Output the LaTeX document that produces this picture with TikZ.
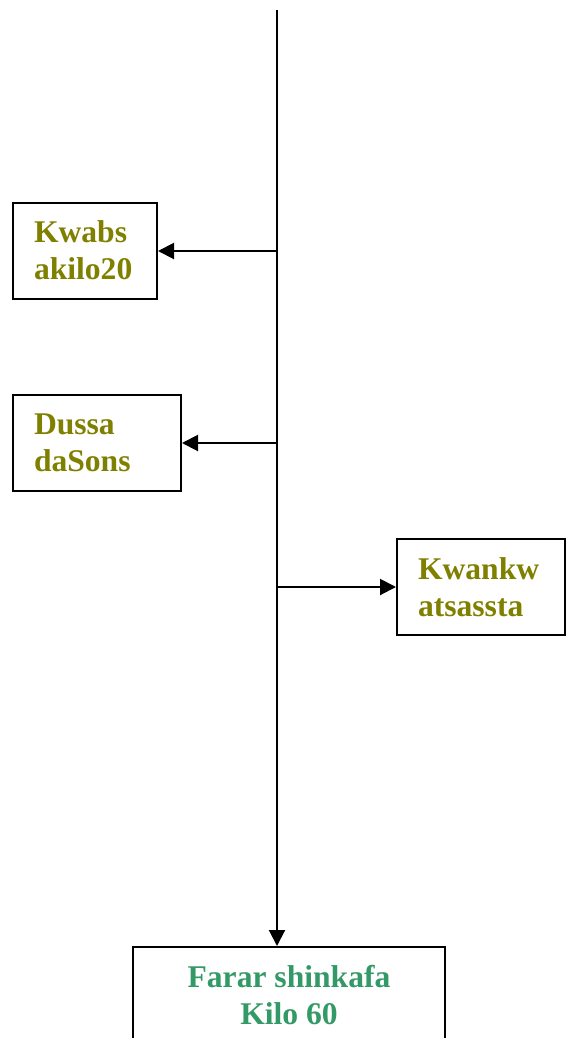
\documentclass[tikz,border=0pt]{standalone}
\usepackage{fontspec}
\setmainfont{Liberation Serif}
\usetikzlibrary{arrows.meta}
\definecolor{olivetxt}{RGB}{128,128,0}
\definecolor{greentxt}{RGB}{51,153,102}
\tikzset{
  box/.style={draw=black, line width=2pt, rectangle, minimum height=96pt,
    inner xsep=21pt, inner ysep=0pt, align=left,
    font=\fontsize{31.6}{37}\selectfont\bfseries, text=olivetxt},
  endbox/.style={draw=black, line width=2pt, rectangle, minimum height=96pt,
    minimum width=312pt, align=center,
    font=\fontsize{31.6}{37}\selectfont\bfseries, text=greentxt},
  conn/.style={line width=2pt, -{Triangle[length=16pt,width=16pt]}}
}
\begin{document}
\begin{tikzpicture}[x=1pt,y=-1pt]
\useasboundingbox (0,0) rectangle (567,1038);
\node[box, text width=102pt] (b1) at (85,250.5) {Kwabs\\akilo20};
\node[box, text width=126pt] (b2) at (97,443) {Dussa\\daSons};
\node[box, text width=126pt] (b3) at (481,587) {Kwankw\\atsassta};
\node[endbox] (b4) at (289,995) {Farar shinkafa\\Kilo 60};
\coordinate (top) at (277,10);
\coordinate (j1) at (277,251);
\coordinate (j2) at (277,443);
\coordinate (j3) at (277,587);
\draw[conn] (top) -- (top |- b4.north);
\draw[conn] (j1) -- (j1 -| b1.east);
\draw[conn] (j2) -- (j2 -| b2.east);
\draw[conn] (j3) -- (j3 -| b3.west);
\end{tikzpicture}
\end{document}
